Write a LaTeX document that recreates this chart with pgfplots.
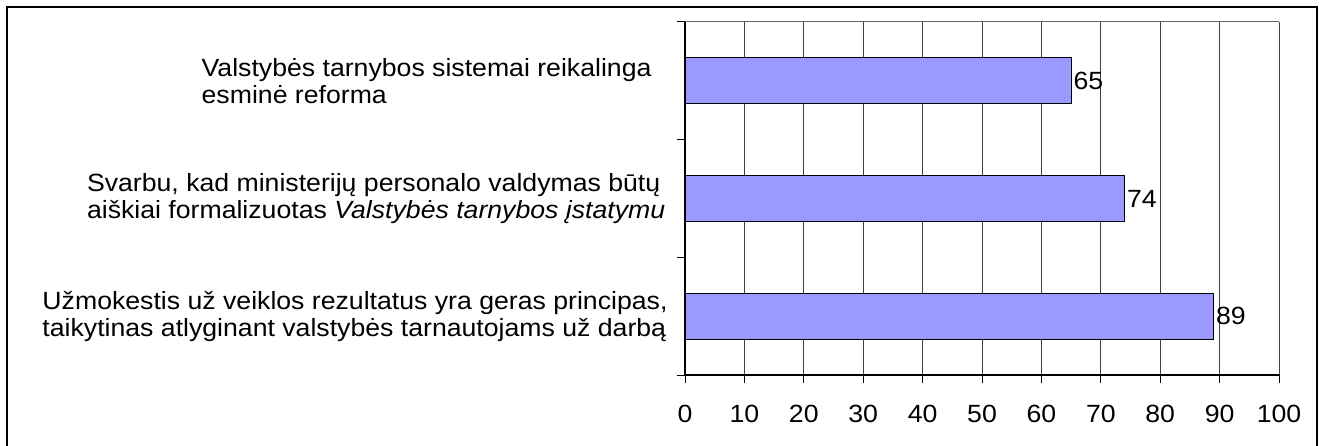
\documentclass[border=0pt]{standalone}
\usepackage{pgfplots}
\pgfplotsset{compat=1.18}
\usepackage{fontspec}
\setmainfont{Liberation Sans}[FakeStretch=1.07]
\definecolor{barblue}{RGB}{153,153,255}
\pgfplotsset{/pgf/number format/assume math mode=true}
\newcommand{\lf}{\fontsize{25}{27}\selectfont}
\begin{document}
\begin{tikzpicture}[x=1bp,y=1bp]
\path[use as bounding box] (0,-446) rectangle (1319,0);
\draw[line width=1.3bp] (7,-7) rectangle (1317,-480);
\begin{axis}[
  at={(685bp,-375bp)}, anchor=south west,
  scale only axis, width=594bp, height=353bp,
  xmin=0, xmax=100, ymin=-0.5, ymax=2.5,
  xbar, bar width=0.39,
  axis x line*=bottom, axis y line*=left,
  xtick={0,10,...,100}, ytick={-0.5,0.5,1.5,2.5}, yticklabels={},
  tick align=outside, major tick length=8bp,
  xmajorgrids, ymajorgrids=false,
  major grid style={black!75, line width=1bp},
  tick style={black, line width=1bp},
  axis line style={black, line width=1.3bp},
  xticklabel style={font=\lf, yshift=-19bp},
  point meta=x,
  nodes near coords,
  nodes near coords style={anchor=west, font=\lf, inner sep=2bp},
  clip=false,
]
\addplot[fill=barblue, draw=black, line width=0.9bp] coordinates {(89,0) (74,1) (65,2)};
\draw[black!60, line width=1bp] (rel axis cs:0,1) -- (rel axis cs:1,1);
\node[anchor=west, align=left, inner sep=0, font=\lf] at (axis cs:-81.4,2) {Valstybės tarnybos sistemai reikalinga\\esminė reforma};
\node[anchor=west, align=left, inner sep=0, font=\lf] at (axis cs:-100.7,1) {Svarbu, kad ministerijų personalo valdymas būtų\\aiškiai formalizuotas \textit{Valstybės tarnybos įstatymu}};
\node[anchor=west, align=left, inner sep=0, font=\lf] at (axis cs:-108.2,0) {Užmokestis už veiklos rezultatus yra geras principas,\\taikytinas atlyginant valstybės tarnautojams už darbą};
\end{axis}
\end{tikzpicture}
\end{document}
